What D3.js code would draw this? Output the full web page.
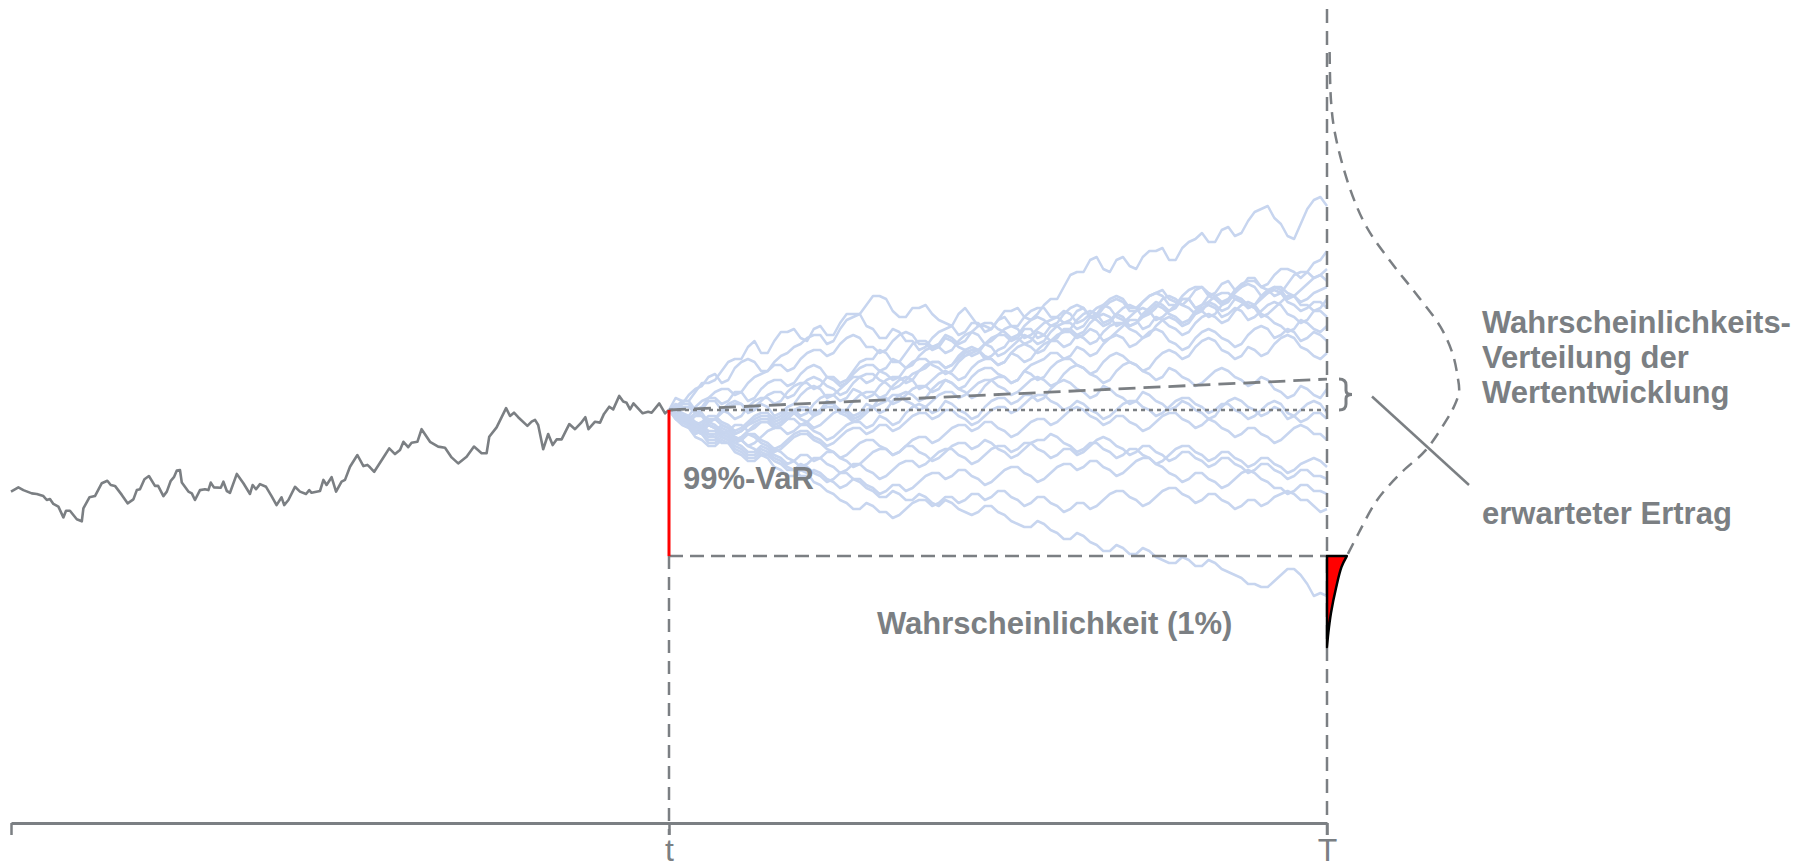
<!DOCTYPE html>
<html>
<head>
<meta charset="utf-8">
<script src="https://cdn.jsdelivr.net/npm/d3@7"></script>
<style>
  body { margin: 0; background: #fff; }
  svg { display: block; }
</style>
</head>
<body>
<script>
'use strict';

// time axis in trading days: t = 0, T = 250
const tickDays = [-250, 0, 250];
const tickLabels = ["", "t", "T"];

// historical value path up to t, [day, value]
const histPath = [
  [-250, 72.8], [-247.2, 74.2], [-245.3, 73.3], [-242.1, 72.2], [-240.2, 72.0], [-237.7, 71.3],
  [-236.4, 70.0], [-235.2, 70.3], [-233.9, 68.7], [-232.0, 67.8], [-230.1, 64.2], [-229.1, 66.4],
  [-227.6, 66.4], [-225.0, 63.6], [-223.1, 62.9], [-222.5, 67.2], [-220.2, 70.9], [-218.1, 71.3],
  [-215.5, 75.6], [-213.4, 76.4], [-212.1, 75.0], [-210.5, 74.7], [-207.9, 71.7], [-205.7, 68.9],
  [-203.5, 70.2], [-202.2, 73.3], [-201.0, 73.6], [-199.3, 76.9], [-197.6, 78.0], [-195.3, 74.7],
  [-194.1, 74.7], [-192.1, 71.3], [-190.8, 72.8], [-189.3, 76.4], [-188.1, 77.6], [-187.0, 79.8],
  [-185.8, 80.0], [-185.1, 75.8], [-182.6, 72.8], [-181.3, 72.2], [-180.1, 70.0], [-178.2, 73.3],
  [-176.3, 73.6], [-175.0, 73.3], [-174.1, 75.8], [-172.9, 74.2], [-170.3, 74.1], [-169.3, 76.1],
  [-168.0, 73.0], [-166.8, 72.4], [-164.2, 78.7], [-161.7, 75.6], [-159.2, 72.0], [-158.2, 75.0],
  [-156.9, 73.6], [-155.4, 75.3], [-153.1, 74.4], [-151.0, 71.3], [-149.1, 68.3], [-147.2, 70.9],
  [-146.2, 68.3], [-144.6, 70.0], [-142.1, 74.4], [-140.2, 72.8], [-137.9, 72.0], [-136.7, 73.3],
  [-135.8, 72.4], [-132.6, 73.0], [-131.3, 76.7], [-130.1, 75.0], [-128.2, 77.6], [-126.5, 72.8],
  [-124.4, 76.1], [-123.1, 76.7], [-121.2, 81.1], [-118.4, 85.0], [-116.1, 81.3], [-114.6, 81.7],
  [-113.6, 80.9], [-112.0, 79.4], [-109.8, 82.4], [-107.9, 85.0], [-106.3, 87.2], [-104.1, 85.3],
  [-102.2, 86.7], [-100.9, 89.4], [-99.1, 87.6], [-97.8, 89.1], [-95.6, 89.4], [-94.0, 93.6],
  [-90.8, 89.4], [-87.7, 87.8], [-85.1, 87.4], [-82.6, 84.2], [-80.1, 82.2], [-76.9, 84.4],
  [-74.1, 87.8], [-71.2, 85.6], [-69.3, 85.6], [-68.3, 91.1], [-65.5, 94.2], [-61.9, 100.6],
  [-60.4, 98.0], [-58.9, 99.1], [-57.3, 97.6], [-53.8, 94.7], [-52.2, 96.1], [-50.9, 96.7],
  [-49.7, 95.0], [-47.8, 86.9], [-45.9, 92.0], [-44.2, 88.3], [-42.7, 90.2], [-40.8, 90.2],
  [-37.9, 95.3], [-35.7, 93.6], [-33.5, 95.6], [-31.8, 97.6], [-30.6, 93.6], [-28.1, 96.1],
  [-26.2, 95.8], [-24.7, 98.7], [-22.7, 101.1], [-21.2, 100.2], [-18.9, 104.7], [-17.4, 102.8],
  [-16.1, 102.4], [-14.8, 100.2], [-13.5, 102.2], [-10.0, 98.9], [-7.9, 99.4], [-6.6, 99.1],
  [-3.7, 102.2], [-1.5, 98.9], [0, 100]
];

// simulated paths: values every 5 days from t to T ...
const simDays = [0, 5, 10, 15, 20, 25, 30, 35, 40, 45, 50, 55, 60, 65, 70, 75, 80, 85, 90, 95,
  100, 105, 110, 115, 120, 125, 130, 135, 140, 145, 150, 155, 160, 165, 170, 175, 180, 185, 190, 195,
  200, 205, 210, 215, 220, 225, 230, 235, 240, 245, 250];

const simPaths = [
  [100, 103,106,109,113,117,121,119,123,126,124, 127,125,129,132,135,138,133,131,134,132, 129,132,131,128,130,133,131,132,137,141, 146,150,147,150,148,151,153,150,154,157, 156,160,158,163,167,164,158,162,170,168],
  [100, 102,107,111,109,114,117,113,116,119,122, 125,122,127,131,128,124,127,123,120,124, 127,125,129,126,130,128,131,134,131,129, 133,131,135,138,134,136,139,137,135,140, 138,142,140,144,141,145,147,144,149,153],
  [100, 98,101,104,102,106,103,107,110,108,112, 115,111,109,113,117,120,116,119,123,121, 125,122,126,129,127,124,128,131,128,132, 135,131,134,137,133,136,139,135,138,141, 139,136,140,143,141,138,142,146,144,147],
  [100, 101,99,103,100,97,101,104,102,106,109, 107,111,108,112,115,113,117,114,118,121, 119,123,126,122,125,128,124,127,130,133, 129,132,135,131,128,132,136,133,137,134, 138,135,139,142,138,141,137,140,144,143],
  [100, 97,99,96,100,103,99,102,98,101,105, 108,104,107,111,109,113,110,114,117,115, 112,116,119,122,118,121,125,122,126,129, 127,131,128,132,135,131,134,138,135,132, 136,139,137,134,138,141,139,136,139,141],
  [100, 103,100,104,107,105,109,112,115,113,117, 120,118,122,125,121,119,123,126,122,120, 124,121,118,122,125,123,127,124,128,126, 130,133,129,132,128,131,135,132,129,133, 136,133,137,135,131,134,138,135,133,137],
  [100, 98,95,98,96,93,96,99,97,100,98, 102,105,103,107,104,108,111,109,113,116, 114,118,121,117,120,124,122,126,123,127, 125,129,132,128,131,134,130,133,137,134, 131,135,138,134,137,140,136,133,136,134],
  [100, 96,98,95,92,95,93,96,94,97,100, 98,102,99,103,106,104,108,111,107,110, 113,110,114,117,115,119,116,120,123,121, 125,122,126,129,127,124,128,131,128,132, 135,131,134,130,133,136,132,129,133,131],
  [100, 102,99,96,99,102,100,103,106,104,108, 111,108,105,109,112,110,107,110,113,116, 114,117,120,118,115,119,122,119,123,126, 124,127,123,126,130,127,131,128,125,129, 132,129,133,136,132,129,126,130,127,128],
  [100, 97,94,97,95,92,95,98,96,99,97, 94,97,100,98,102,99,103,106,103,107, 110,107,111,114,112,109,113,116,119,117, 121,118,122,125,121,124,127,123,120,124, 127,124,121,125,128,124,127,123,126,123],
  [100, 99,96,93,95,92,95,97,95,98,101, 99,103,100,97,100,104,102,105,108,106, 110,107,104,108,111,109,113,110,114,117, 115,112,116,119,116,113,117,120,117,121, 124,120,117,121,118,122,125,121,118,119],
  [100, 97,94,91,93,90,93,96,94,97,95, 98,101,99,96,99,102,105,103,100,103, 106,104,107,110,108,105,108,111,108,112, 115,112,109,113,116,113,110,114,111,108, 111,114,111,108,111,107,104,108,105,107],
  [100, 98,95,92,94,91,88,91,94,92,95, 93,90,93,96,94,98,95,99,102,99, 103,100,97,101,104,102,105,103,107,110, 107,104,108,105,102,106,103,100,103,100, 97,101,104,101,98,101,97,100,103,99],
  [100, 96,93,95,92,89,92,90,87,90,93, 91,88,91,94,92,95,93,96,99,97, 100,98,95,98,101,99,102,105,103,100, 103,100,97,100,103,101,98,101,104,102, 99,102,100,97,100,103,99,96,99,97],
  [100, 97,94,96,93,90,92,89,86,89,92, 90,87,84,87,90,88,85,88,91,89, 92,95,93,96,94,91,94,97,95,98, 101,98,95,98,96,93,96,99,97,94, 97,94,91,94,92,89,92,95,92,90],
  [100, 96,93,90,92,89,86,88,85,82,85, 83,86,84,81,84,87,85,88,86,83, 86,89,87,90,87,84,87,90,92,89, 86,89,87,84,87,85,82,85,88,86, 83,86,84,81,84,82,79,82,84,81],
  [100, 97,95,92,89,91,88,85,87,84,81, 84,82,79,82,80,77,80,83,81,84, 87,85,82,85,88,86,89,87,84,87, 85,88,91,88,85,88,86,83,86,84, 81,84,82,79,82,80,77,80,78,77],
  [100, 96,92,95,91,88,85,87,84,81,78, 80,77,74,77,75,72,75,73,76,79, 77,80,78,75,78,81,79,76,79,82, 80,83,81,78,81,84,82,79,76,79, 77,74,77,80,77,74,72,75,73,72],
  [100, 95,91,88,90,86,83,85,81,78,80, 76,73,70,67,69,66,64,67,70,68, 71,69,72,70,73,71,68,71,69,66, 69,67,70,73,71,68,71,74,72,69, 72,70,67,70,68,71,73,70,68,67],
  [100, 96,93,89,91,87,84,86,83,80,82, 79,76,79,77,74,71,73,70,72,69, 70,67,65,68,66,63,61,63,60,57, 59,56,53,55,52,54,51,49,51,48, 50,47,45,42,41,43,47,45,38,38]
];

// ... and the values in between (day 2.5, 7.5, ... 247.5)
const simMids = [
  [104,103,109,110,116,117,123,119,126,127, 123,128,125,132,132,138,137,131,134,135, 130,128,134,128,127,133,134,130,135,137, 145,146,151,146,151,147,153,154,150,156, 159,156,161,159,166,168,162,157,167,171],
  [99,105,108,112,110,116,116,113,118,121, 124,125,123,130,132,127,124,126,123,121, 126,128,126,129,127,131,128,133,134,131, 130,134,132,137,137,134,138,140,136,137, 141,139,143,141,144,142,147,146,146,150],
  [100,98,103,104,103,106,104,109,110,109, 114,114,111,110,116,117,119,116,122,123, 122,124,123,128,129,126,125,130,130,129, 134,134,131,136,136,133,138,138,135,140, 141,138,137,142,143,140,139,145,146,145],
  [102,101,100,103,99,98,103,104,103,108, 109,108,110,109,114,115,114,116,115,120, 121,120,125,125,123,127,127,125,129,131, 132,130,134,134,130,129,134,135,134,137, 135,137,136,141,141,139,140,138,142,145],
  [99,97,99,97,102,102,100,101,99,102, 107,107,105,109,111,110,112,111,116,117, 114,113,118,120,121,119,123,124,123,128, 129,128,130,129,134,134,132,137,137,134, 133,138,139,136,135,140,141,138,137,140],
  [101,103,101,106,107,106,111,113,115,114, 119,120,119,124,124,121,120,125,125,122, 121,123,120,119,124,125,124,127,125,128, 127,132,132,130,131,129,133,134,131,130, 135,135,134,137,134,132,136,138,135,134],
  [100,97,96,98,95,94,98,99,98,100, 99,104,105,104,106,105,110,111,110,115, 116,115,120,120,118,121,124,123,125,124, 127,126,131,131,129,133,133,131,135,137, 133,132,137,137,135,139,139,135,134,136],
  [99,96,98,94,93,95,94,96,95,99, 100,99,102,100,105,106,105,110,110,108, 112,112,111,116,117,116,118,117,122,123, 122,124,123,128,129,126,125,130,130,129, 134,134,132,133,131,135,135,131,130,133],
  [100,102,98,97,101,102,101,105,106,105, 110,110,107,106,111,112,109,108,112,114, 116,115,119,120,117,116,121,121,120,125, 126,125,126,124,128,130,128,130,127,126, 131,131,130,135,135,131,128,127,129,126],
  [99,96,95,97,94,93,97,98,97,99, 96,95,99,100,99,101,100,105,105,104, 109,109,108,113,114,111,110,115,117,119, 118,120,119,124,124,122,126,126,122,121, 126,126,123,122,127,127,125,126,124,125],
  [101,98,95,93,94,93,96,97,96,100, 101,100,102,99,98,101,104,103,107,108, 107,109,106,105,110,111,110,112,111,116, 117,114,113,118,118,115,114,119,119,118, 123,123,119,118,120,119,124,124,120,117],
  [99,96,93,91,92,91,95,96,95,97, 96,100,101,98,97,101,103,105,102,101, 105,106,105,109,110,107,106,110,110,109, 114,114,111,110,115,115,112,111,113,110, 109,113,113,110,109,110,106,105,107,104],
  [100,97,94,92,93,90,89,93,94,93, 95,92,91,95,96,95,97,96,101,101, 100,102,99,98,103,104,103,105,104,109, 109,106,105,107,104,103,105,102,101,102, 99,98,103,103,100,99,100,98,102,102],
  [97,95,93,94,91,90,92,89,88,92, 93,90,89,93,94,93,95,94,98,99, 98,100,97,96,100,101,100,104,105,102, 101,102,99,98,102,103,100,99,103,104, 101,100,102,99,98,102,102,98,97,99],
  [99,96,94,95,92,90,91,88,87,91, 92,89,86,85,89,90,87,86,90,91, 90,94,95,94,96,93,92,96,97,96, 100,100,97,96,98,95,94,98,99,96, 95,96,93,92,94,91,90,94,94,92],
  [99,95,92,90,91,88,86,87,84,83, 85,84,86,83,82,86,87,86,88,85, 84,88,89,88,89,86,85,89,90,91, 88,87,89,86,85,87,84,83,87,88, 85,84,86,83,82,84,81,80,83,83],
  [98,97,94,91,89,90,87,85,86,83, 82,84,81,80,82,79,78,82,83,82, 86,87,84,83,87,88,87,89,86,85, 87,86,90,90,87,86,88,85,84,86, 83,82,84,81,80,82,79,78,80,78],
  [98,95,93,94,90,87,85,86,83,80, 78,79,76,75,77,74,73,75,74,78, 79,78,80,77,76,80,81,78,77,81, 82,81,83,80,79,83,84,81,78,77, 79,76,75,79,79,76,74,73,75,73],
  [97,94,90,88,89,85,83,84,80,78, 79,75,72,69,67,68,66,65,69,70, 69,71,70,72,71,73,70,69,71,68, 67,69,68,72,73,70,69,73,74,71, 70,72,69,68,70,69,72,72,70,66],
  [98,95,92,89,90,86,84,85,82,80, 81,78,77,79,76,73,71,72,70,71, 68,69,66,66,68,65,62,61,62,59, 57,58,55,53,54,52,53,50,49,50, 48,49,46,44,42,41,45,47,42,39]
];

// reference levels
const startLevel = 100;
const expectedDays = [0, 250];
const expectedValues = [100, 110.3];
const varLevel = 51.3;

// distribution at T (value level, relative density)
const densLevels = [219.3, 203.3, 192.3, 174.3, 161, 149, 139, 127.7, 119, 111, 106, 100, 97.7, 86.7, 79, 70, 59, 51.3];
const densHeights = [0.02, 0.03, 0.06, 0.17, 0.3, 0.49, 0.67, 0.86, 0.95, 0.99, 1.0, 0.95, 0.92, 0.75, 0.56, 0.38, 0.24, 0.15];
const tailLevels = [51.3, 47.7, 41, 32.3, 25.7, 21];
const tailHeights = [0.15, 0.11, 0.07, 0.03, 0.01, 0];

const varLabel = "99%-VaR";
const tailLabel = "Wahrscheinlichkeit (1%)";
const distLabel = ["Wahrscheinlichkeits-", "Verteilung der", "Wertentwicklung"];
const expLabel = "erwarteter Ertrag";

(function() {

  let svgContainer = ""; // keep SVG reference in global scope
  const gray = "#7b7f83";
  const blue = "#c7d5ef";
  const axisY = 823;
  const font = "'Liberation Sans', Arial, Helvetica, sans-serif";

  window.onload = function() {
    svgContainer = d3.select('body')
      .append('svg')
      .attr('width', 1802)
      .attr('height', 863);

    let map = drawAxes();
    plotPaths(map);
    drawLevels(map);
    drawDensity(map);
    makeLabels(map);
  };

  // time axis at the bottom, value scale for the paths
  function drawAxes() {
    let xScale = d3.scaleLinear()
      .domain([-250, 250])
      .range([11, 1327]);

    // 3px per value unit, 100 sits at y = 410
    let yScale = d3.scaleLinear()
      .domain([0, 200])
      .range([710, 110]);

    let xAxis = d3.axisBottom(xScale)
      .tickValues(tickDays)
      .tickFormat((d, i) => tickLabels[i])
      .tickSize(12)
      .tickSizeOuter(0)
      .tickPadding(3);

    let g = svgContainer.append('g')
      .attr('transform', 'translate(0,' + axisY + ')')
      .call(xAxis);
    g.select('.domain').attr('stroke', gray).attr('stroke-width', 3);
    g.selectAll('.tick line').attr('stroke', gray).attr('stroke-width', 2.5);
    g.selectAll('.tick text')
      .attr('fill', gray)
      .style('font-family', font)
      .style('font-size', '32px');

    return { x: xScale, y: yScale };
  }

  // merge the 5-day values with the in-between values
  function pathPoints(k) {
    let p = simPaths[k], m = simMids[k];
    let pts = [];
    for (let i = 0; i < p.length; i++) {
      pts.push([simDays[i], p[i]]);
      if (i < m.length) pts.push([(simDays[i] + simDays[i + 1]) / 2, m[i]]);
    }
    return pts;
  }

  // simulated paths first, then the history on top
  function plotPaths(map) {
    let line = d3.line()
      .x((d) => map.x(d[0]))
      .y((d) => map.y(d[1]));

    svgContainer.append('g').selectAll('path')
      .data(simPaths.map((p, k) => pathPoints(k)))
      .enter()
      .append('path')
        .attr('d', line)
        .attr('fill', 'none')
        .attr('stroke', blue)
        .attr('stroke-width', 2.5)
        .attr('stroke-linejoin', 'round');

    svgContainer.append('path')
      .attr('d', line(histPath))
      .attr('fill', 'none')
      .attr('stroke', gray)
      .attr('stroke-width', 2.6)
      .attr('stroke-linejoin', 'round');
  }

  function drawLevels(map) {
    let x = map.x, y = map.y;
    let t = x(0), T = x(250);

    // vertical guides at t and T
    svgContainer.append('line')
      .attr('x1', t).attr('x2', t)
      .attr('y1', y(varLevel)).attr('y2', axisY + 12)
      .attr('stroke', gray).attr('stroke-width', 2.5)
      .attr('stroke-dasharray', '13,8');
    svgContainer.append('line')
      .attr('x1', T).attr('x2', T)
      .attr('y1', 9).attr('y2', axisY + 12)
      .attr('stroke', gray).attr('stroke-width', 2.5)
      .attr('stroke-dasharray', '14,8');

    // start level (dotted)
    svgContainer.append('line')
      .attr('x1', t).attr('x2', T)
      .attr('y1', y(startLevel)).attr('y2', y(startLevel))
      .attr('stroke', gray).attr('stroke-width', 2.5)
      .attr('stroke-dasharray', '4,4');

    // expected value (dashed)
    svgContainer.append('line')
      .attr('x1', x(expectedDays[0])).attr('x2', x(expectedDays[1]))
      .attr('y1', y(expectedValues[0])).attr('y2', y(expectedValues[1]))
      .attr('stroke', gray).attr('stroke-width', 2.8)
      .attr('stroke-dasharray', '17,8');

    // var level
    svgContainer.append('line')
      .attr('x1', t).attr('x2', T)
      .attr('y1', y(varLevel)).attr('y2', y(varLevel))
      .attr('stroke', gray).attr('stroke-width', 2.5)
      .attr('stroke-dasharray', '14,7');

    // red VaR span
    svgContainer.append('line')
      .attr('x1', t).attr('x2', t)
      .attr('y1', y(startLevel)).attr('y2', y(varLevel))
      .attr('stroke', '#ff0000').attr('stroke-width', 3);

    // brace between start level and expected value at T
    let b0 = y(expectedValues[1]), b1 = y(startLevel), bm = (b0 + b1) / 2;
    let bx = T + 12;
    svgContainer.append('path')
      .attr('d', 'M' + bx + ',' + b0 +
        ' Q' + (bx + 7) + ',' + b0 + ' ' + (bx + 7) + ',' + (b0 + 6) +
        ' L' + (bx + 7) + ',' + (bm - 4) +
        ' Q' + (bx + 7) + ',' + bm + ' ' + (bx + 13) + ',' + bm +
        ' Q' + (bx + 7) + ',' + bm + ' ' + (bx + 7) + ',' + (bm + 4) +
        ' L' + (bx + 7) + ',' + (b1 - 6) +
        ' Q' + (bx + 7) + ',' + b1 + ' ' + bx + ',' + b1)
      .attr('fill', 'none')
      .attr('stroke', gray)
      .attr('stroke-width', 3);

    // leader to "erwarteter Ertrag"
    svgContainer.append('line')
      .attr('x1', T + 45).attr('y1', y(104.5))
      .attr('x2', T + 142).attr('y2', y(75))
      .attr('stroke', gray).attr('stroke-width', 2.5);
  }

  // distribution at T drawn sideways
  function drawDensity(map) {
    let y = map.y;
    let T = map.x(250);
    let dScale = d3.scaleLinear().domain([0, 1]).range([T, T + 132]);

    let curve = d3.line()
      .x((d) => dScale(d[1]))
      .y((d) => y(d[0]))
      .curve(d3.curveCatmullRom.alpha(0.5));

    svgContainer.append('path')
      .attr('d', curve(densLevels.map((v, i) => [v, densHeights[i]])))
      .attr('fill', 'none')
      .attr('stroke', gray)
      .attr('stroke-width', 2.5)
      .attr('stroke-dasharray', '12,8');

    let tail = d3.area()
      .y((d) => y(d[0]))
      .x0(T)
      .x1((d) => dScale(d[1]))
      .curve(d3.curveCatmullRom.alpha(0.5));

    svgContainer.append('path')
      .attr('d', tail(tailLevels.map((v, i) => [v, tailHeights[i]])))
      .attr('fill', '#ff0000')
      .attr('stroke', '#000')
      .attr('stroke-width', 2.5)
      .attr('stroke-linejoin', 'round');
  }

  function makeLabels(map) {
    let T = map.x(250);
    let addText = function(x, y, s) {
      svgContainer.append('text')
        .attr('x', x)
        .attr('y', y)
        .attr('fill', gray)
        .style('font-family', font)
        .style('font-weight', 'bold')
        .style('font-size', '31px')
        .text(s);
    };

    addText(map.x(0) + 14, 489, varLabel);
    addText(877, 634, tailLabel);
    distLabel.forEach((s, i) => addText(T + 155, 333 + i * 35, s));
    addText(T + 155, 524, expLabel);
  }

})();
</script>
</body>
</html>
